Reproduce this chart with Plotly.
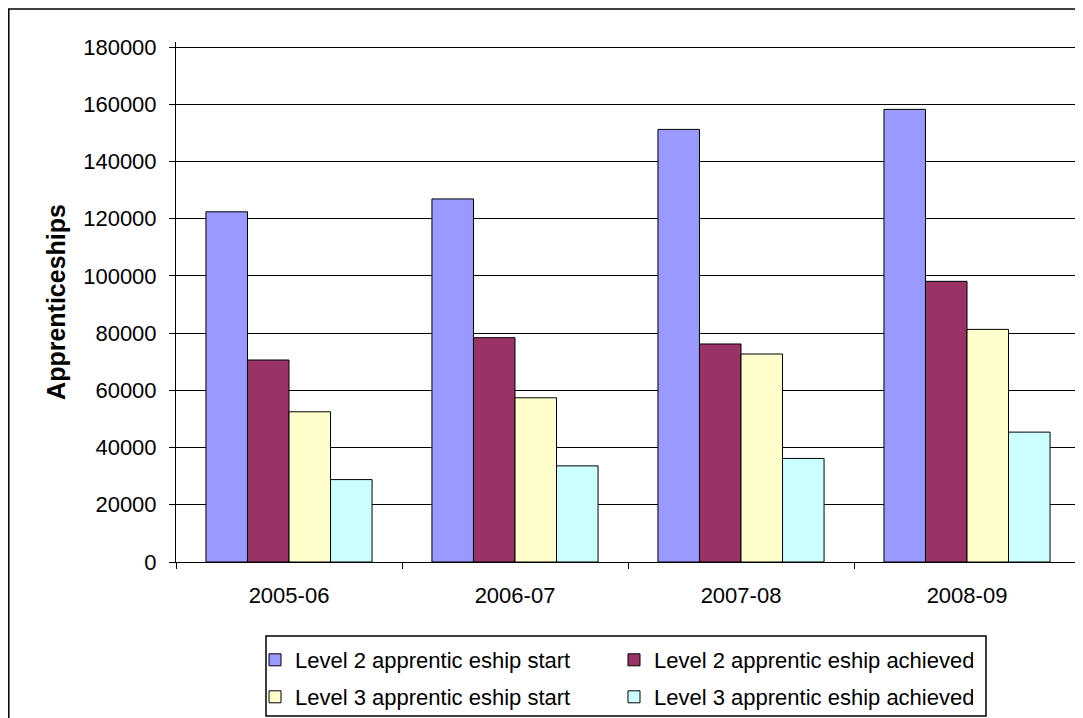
import plotly.graph_objects as go

# apprenticeships by year
years = ["2005-06", "2006-07", "2007-08", "2008-09"]
l2_start = [122400, 126900, 151200, 158200]
l2_achieved = [70600, 78400, 76200, 98100]
l3_start = [52500, 57400, 72700, 81300]
l3_achieved = [28800, 33600, 36200, 45400]

series = [
    ("Level 2 apprentic eship start", l2_start, "#9999FF", "legend"),
    ("Level 2 apprentic eship achieved", l2_achieved, "#993366", "legend"),
    ("Level 3 apprentic eship start", l3_start, "#FFFFCC", "legend2"),
    ("Level 3 apprentic eship achieved", l3_achieved, "#CCFFFF", "legend2"),
]

fig = go.Figure()
for name, vals, col, leg in series:
    fig.add_trace(go.Bar(x=years, y=vals, name=name, legend=leg,
                         marker=dict(color=col, line=dict(color="black", width=1))))

# page body has an 8px margin, so the figure is a bit smaller than the window
W, H = 1075, 710
L, R, T, B = 168, 3, 34, 156
pw, ph = W - L - R, H - T - B
# a little headroom so the 180000 gridline is not clipped at the edge
ymax = 180000 * ph / 515


def px(x):
    return (x - L) / pw


def py(y):
    return (H - B - y) / ph


leg_common = dict(
    orientation="h", xanchor="left", yanchor="middle",
    entrywidth=314, entrywidthmode="pixels",
    borderwidth=0, bgcolor="rgba(0,0,0,0)",
    font=dict(size=22), itemwidth=30,
)

fig.update_layout(
    width=W, height=H,
    margin=dict(l=L, r=R, t=T, b=B, autoexpand=False),
    paper_bgcolor="white", plot_bgcolor="white",
    font=dict(family="Liberation Sans, Arial", size=22, color="black"),
    barmode="group", bargap=0.265, bargroupgap=0,
    showlegend=True,
    legend=dict(x=px(247), y=py(652), **leg_common),
    legend2=dict(x=px(247), y=py(689), **leg_common),
)
fig.update_yaxes(
    range=[0, ymax], dtick=20000, tickformat="d",
    showgrid=True, gridcolor="black", gridwidth=1,
    showline=True, linecolor="black", linewidth=1,
    ticks="outside", ticklen=6, tickcolor="black",
    ticklabelstandoff=8, zeroline=False,
    title=dict(text="<b>Apprenticeships</b>", font=dict(size=25), standoff=10),
)
fig.update_xaxes(
    type="category", range=[-0.5, 3.5], showline=True, linecolor="black", linewidth=1,
    ticks="outside", ticklen=6, tickcolor="black", tickson="boundaries",
    ticklabelstandoff=14, showgrid=False,
)

# outer chart border
fig.add_shape(type="rect", xref="paper", yref="paper",
              x0=px(0.8), x1=px(W + 10), y0=py(H + 10), y1=py(1),
              line=dict(color="black", width=1.5), fillcolor="rgba(0,0,0,0)")
# legend box
fig.add_shape(type="rect", xref="paper", yref="paper",
              x0=px(258), x1=px(978), y0=py(708), y1=py(628),
              line=dict(color="black", width=1.5), fillcolor="rgba(0,0,0,0)")

fig.write_html("out.html")
